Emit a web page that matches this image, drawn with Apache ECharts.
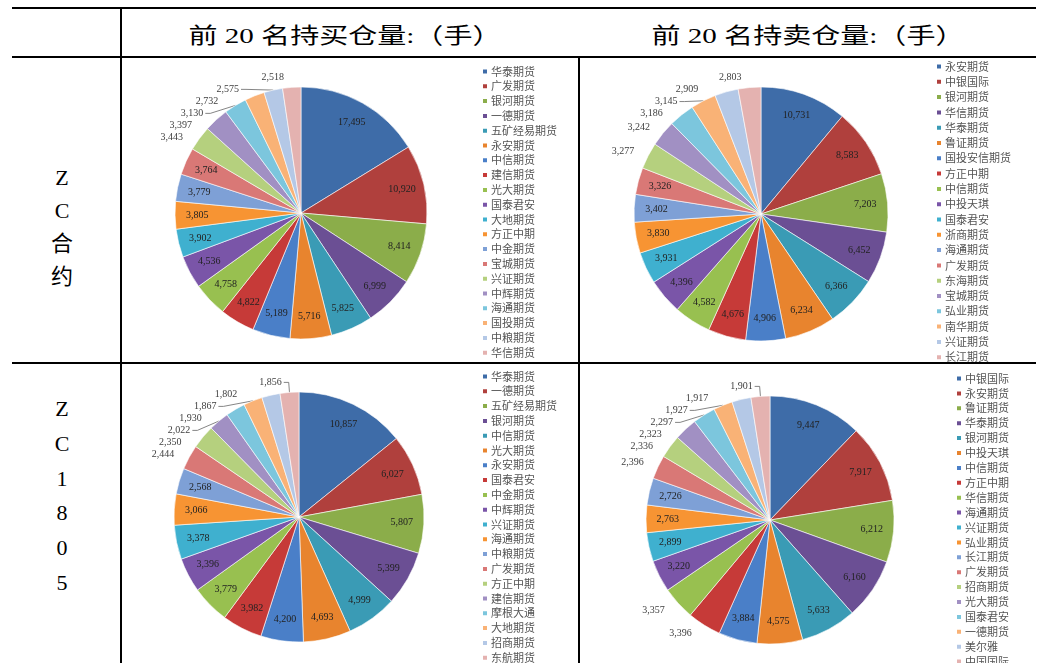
<!DOCTYPE html>
<html><head><meta charset="utf-8">
<script src="https://cdn.jsdelivr.net/npm/echarts@6/dist/echarts.min.js"></script>
<style>
body{margin:0;width:1048px;height:663px;overflow:hidden;background:#fff;position:relative;font-family:"Liberation Serif","Noto Sans CJK SC",serif;color:#000}
.h{position:absolute;background:#000;height:2px}
.v{position:absolute;background:#000;width:2px}
.hd{position:absolute;top:33px;font-size:22px;white-space:nowrap;transform:translate(-50%,-50%) scaleX(1.32);}
.rl{position:absolute;font-size:22px;text-align:center;width:40px;}
.c{position:absolute}
</style></head>
<body>
<div class="h" style="left:12px;top:7px;width:1024px"></div>
<div class="h" style="left:12px;top:56px;width:1024px"></div>
<div class="h" style="left:12px;top:362px;width:1024px"></div>
<div class="v" style="left:120px;top:7px;height:660px"></div>
<div class="v" style="left:578px;top:56px;height:610px"></div>
<div class="hd" style="left:345px">前 20 名持买仓量:（手）</div>
<div class="hd" style="left:808px">前 20 名持卖仓量:（手）</div>
<div class="rl" style="left:42px;top:161px;line-height:33px">Z<br>C<br>合<br>约</div>
<div class="rl" style="left:42px;top:392px;line-height:34.8px">Z<br>C<br>1<br>8<br>0<br>5</div>
<div id="c1" class="c" style="left:123px;top:59px;width:453px;height:330px"></div>
<div id="c2" class="c" style="left:581px;top:59px;width:455px;height:330px"></div>
<div id="c3" class="c" style="left:123px;top:365px;width:453px;height:330px"></div>
<div id="c4" class="c" style="left:581px;top:365px;width:455px;height:330px"></div>
<script>
// ZC合约 前20名持买
const buyNamesZC = ['华泰期货','广发期货','银河期货','一德期货','五矿经易期货','永安期货','中信期货','建信期货','光大期货','国泰君安','大地期货','方正中期','中金期货','宝城期货','兴证期货','中辉期货','海通期货','国投期货','中粮期货','华信期货'];
const buyValuesZC = [17495, 10920, 8414, 6999, 5825, 5716, 5189, 4822, 4758, 4536, 3902, 3805, 3779, 3764, 3443, 3397, 3130, 2732, 2575, 2518];
// ZC合约 前20名持卖
const sellNamesZC = ['永安期货','中银国际','银河期货','华信期货','华泰期货','鲁证期货','国投安信期货','方正中期','中信期货','中投天琪','国泰君安','浙商期货','海通期货','广发期货','东海期货','宝城期货','弘业期货','南华期货','兴证期货','长江期货'];
const sellValuesZC = [10731, 8583, 7203, 6452, 6366, 6234, 4906, 4676, 4582, 4396, 3931, 3830, 3402, 3326, 3277, 3242, 3186, 3145, 2909, 2803];
// ZC1805 前20名持买
const buyNames1805 = ['华泰期货','一德期货','五矿经易期货','银河期货','中信期货','光大期货','永安期货','国泰君安','中金期货','中辉期货','兴证期货','海通期货','中粮期货','广发期货','方正中期','建信期货','摩根大通','大地期货','招商期货','东航期货'];
const buyValues1805 = [10857, 6027, 5807, 5399, 4999, 4693, 4200, 3982, 3779, 3396, 3378, 3066, 2568, 2444, 2350, 2022, 1930, 1867, 1802, 1856];
// ZC1805 前20名持卖
const sellNames1805 = ['中银国际','永安期货','鲁证期货','华泰期货','银河期货','中投天琪','中信期货','方正中期','华信期货','海通期货','兴证期货','弘业期货','长江期货','广发期货','招商期货','光大期货','国泰君安','一德期货','美尔雅','中国国际'];
const sellValues1805 = [9447, 7917, 6212, 6160, 5633, 4575, 3884, 3396, 3357, 3220, 2899, 2763, 2726, 2396, 2336, 2323, 2297, 1927, 1917, 1901];

const palette = ['#3E6CA8','#B0403D','#8BAD4A','#6B4F94','#3A9BB5','#E8842E','#4A7FC8','#C63A38','#98C050','#7A55A8','#3FB0CF','#F79433','#7EA0D6','#D97876','#B5D07E','#A190C3','#7CC6DD','#F9B276','#B4C8E6','#E4B2B0'];

function makePie(id, names, values, outsideIdx, lineIdx, center, radius, legendLeft, legendTop, legendGap) {
  const chart = echarts.init(document.getElementById(id), null, {renderer: 'canvas'});
  const mainData = names.map((n, i) => ({name: n, value: values[i]}));
  const labelData = names.map((n, i) => {
    const out = outsideIdx.indexOf(i) >= 0;
    return {
      name: n, value: values[i],
      label: out ? {position: 'outside', color: '#404040'} : {position: 'inside', color: '#222'},
      labelLine: {show: out && lineIdx.indexOf(i) >= 0}
    };
  });
  chart.setOption({
    animation: false,
    color: palette,
    legend: {
      orient: 'vertical', left: legendLeft, top: legendTop, padding: 0,
      itemWidth: 6, itemHeight: 6, itemGap: legendGap, icon: 'rect',
      textStyle: {fontSize: 11, color: '#555', fontFamily: '"Noto Sans CJK SC"', padding: [0,0,0,-2]},
      data: names
    },
    series: [
      {
        type: 'pie', radius: [0, radius], center: center, startAngle: 90, clockwise: true,
        silent: true, label: {show: false}, labelLine: {show: false},
        itemStyle: {borderColor: '#ffffff', borderWidth: 0.6},
        data: mainData
      },
      {
        type: 'pie', radius: [radius * 0.6, radius], center: center, startAngle: 90, clockwise: true,
        silent: true, legendHoverLink: false, avoidLabelOverlap: true,
        itemStyle: {color: 'rgba(0,0,0,0)', borderWidth: 0},
        label: {show: true, fontSize: 10, fontFamily: '"Liberation Serif"', formatter: p => p.value.toLocaleString('en-US'), distanceToLabelLine: 2},
        labelLine: {length: 10, length2: 5, lineStyle: {color: '#666', width: 0.8}},
        data: labelData
      }
    ]
  });
}

makePie('c1', buyNamesZC, buyValuesZC, [14,15,16,17,18,19], [16,18], [178, 154], 126, 358, 7, 3.8);
makePie('c2', sellNamesZC, sellValuesZC, [14,15,16,17,18,19], [17], [180, 155], 127, 354, 2, 4.3);
makePie('c3', buyNames1805, buyValues1805, [13,14,15,16,17,18,19], [15,17,19], [176, 152], 125, 358, 6, 3.8);
makePie('c4', sellNames1805, sellValues1805, [7,8,13,14,15,16,17,18,19], [16,17,19], [189, 155], 124, 374, 8, 3.9);
</script>
</body></html>
